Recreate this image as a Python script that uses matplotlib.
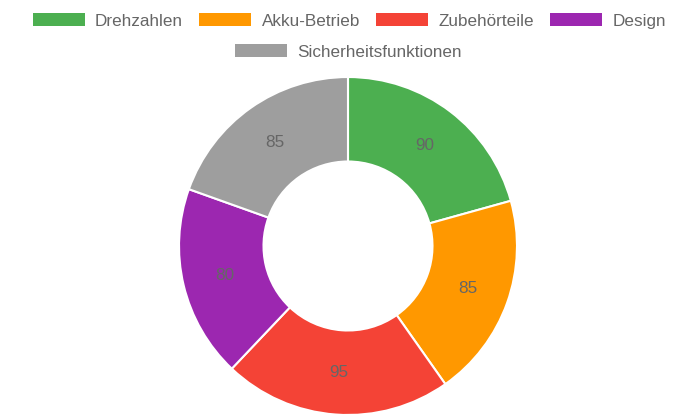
import matplotlib.pyplot as plt
from matplotlib.patches import Patch

# Data
categories = ['Drehzahlen', 'Akku-Betrieb', 'Zubehörteile', 'Design', 'Sicherheitsfunktionen']
values = [90, 85, 95, 80, 85]
colors = ['#4CAF50', '#FF9800', '#F44336', '#9C27B0', '#9E9E9E']

plt.rcParams['font.family'] = ['Liberation Sans', 'DejaVu Sans']
text_color = '#666666'

fig = plt.figure(figsize=(6.96, 4.18), dpi=100)
ax = fig.add_axes([178 / 696, 2 / 418, 340 / 696, 340 / 418])

total = sum(values)
wedges, texts, autotexts = ax.pie(
    values, colors=colors, startangle=90, counterclock=False,
    radius=0.994,
    wedgeprops=dict(width=0.497, edgecolor='white', linewidth=1.5),
    autopct=lambda p: f'{p * total / 100:.0f}', pctdistance=0.75,
    textprops=dict(color=text_color, fontsize=12.3))
ax.set_xlim(-1, 1)
ax.set_ylim(-1, 1)
ax.set_aspect('equal')

# Legend (two centered rows)
handles = [Patch(facecolor=c, edgecolor='none') for c in colors]
leg_kw = dict(frameon=False, fontsize=12.3, handlelength=3.05, handleheight=0.8,
              handletextpad=0.6, columnspacing=0.95, labelcolor=text_color,
              borderaxespad=0, borderpad=0)
fig.legend(handles[:4], categories[:4], ncol=4, loc='center',
           bbox_to_anchor=(0.502, 1 - 21 / 418), **leg_kw)
fig.legend(handles[4:], categories[4:], ncol=1, loc='center',
           bbox_to_anchor=(0.5, 1 - 52 / 418), **leg_kw)

fig.savefig('out.png', dpi=100)
